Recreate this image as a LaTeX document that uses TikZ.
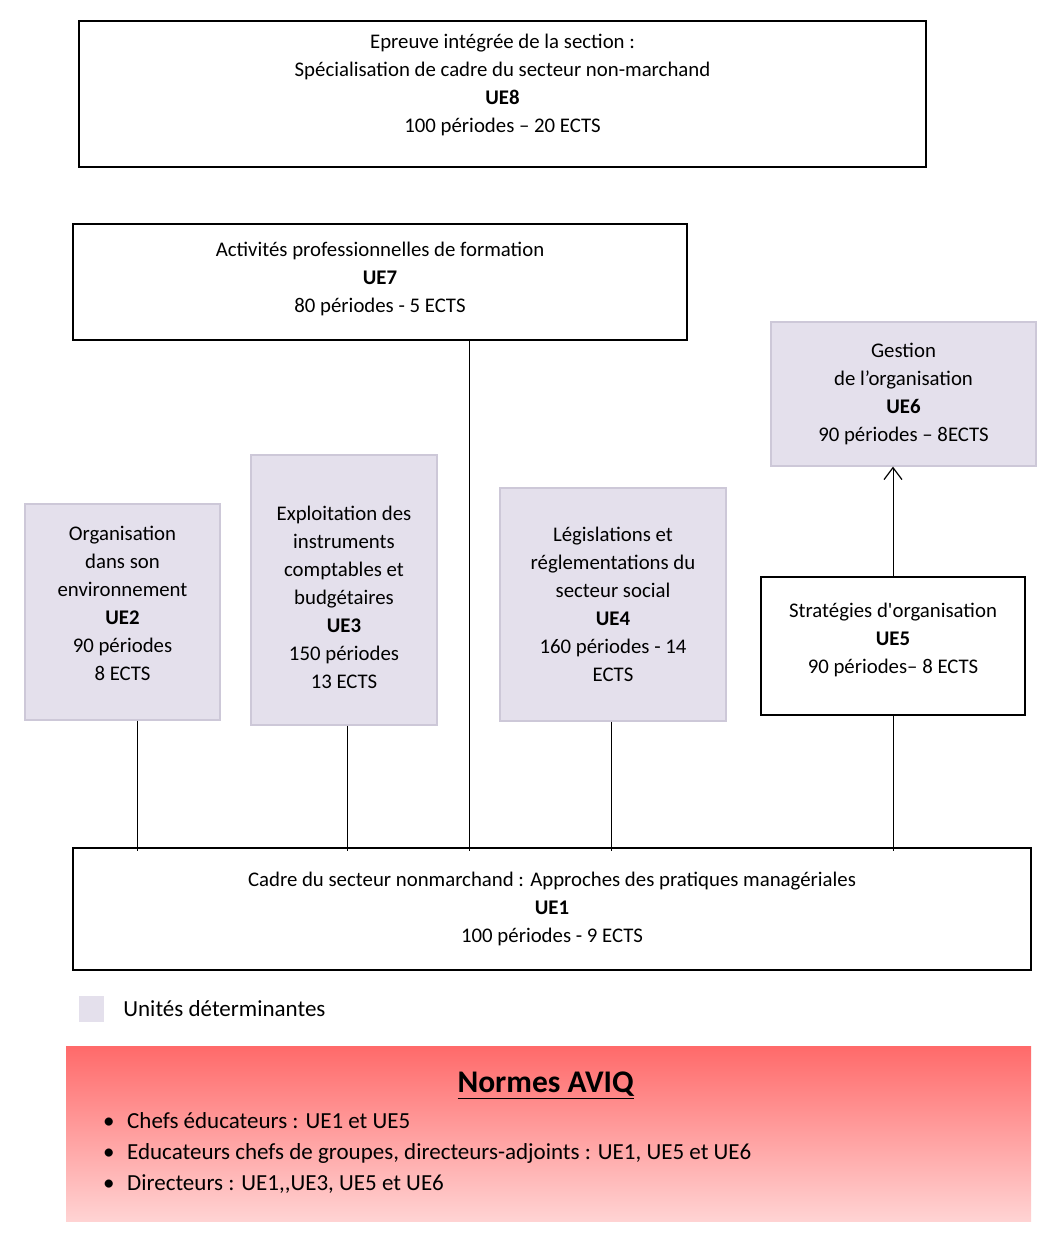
\documentclass[tikz,border=0pt]{standalone}
\usepackage{fontspec}
\setmainfont{Carlito}
\usetikzlibrary{positioning, arrows.meta}
\definecolor{uefill}{HTML}{E4E0EC}
\definecolor{uedraw}{HTML}{CDC8D8}
\definecolor{avtop}{HTML}{FF6A6A}
\definecolor{avbot}{HTML}{FFD3D3}

\begin{document}
\begin{tikzpicture}[x=1pt,y=-1pt]
\useasboundingbox (0,0) rectangle (1050,1253);

\tikzstyle{link} = [line width=1pt, shorten >=-4pt]
\tikzstyle{arrow} = [line width=1pt, -{Straight Barb[length=12pt,width=18pt,line width=1.2pt]}]
\tikzset{ue/.style = {rectangle, draw, line width=1.2pt, align=center, inner sep=0pt, font=\fontsize{20.8}{28}\selectfont}, }
\tikzset{det/.style = {ue, fill=uefill, draw=uedraw}, }
\newcommand{\bul}{\makebox[24pt][l]{\textbullet}}
\newcommand{\dpt}[1]{\rule[-#1]{0pt}{0pt}}
\newcommand{\htt}[1]{\rule{0pt}{#1}}

\node[ue, minimum width=847pt, minimum height=146pt] (UE8) at (502.5,94) {Epreuve intégrée de la section :\\
	Spécialisation de cadre du secteur non-marchand\\
	\textbf{UE8}\\
	100 périodes -- 20 ECTS\dpt{21pt}};
\node[ue, minimum width=614pt, minimum height=116pt] (UE7) at (380,282) {Activités professionnelles de formation\\
	\textbf{UE7}\\
	80 périodes - 5 ECTS\dpt{9pt}};
\node[det, minimum width=265pt, minimum height=144pt] (UE6) at (903.5,394) {Gestion\\
	de l’organisation\\
	\textbf{UE6}\\
	90 périodes -- 8ECTS};
\node[det, minimum width=195pt, minimum height=216pt] (UE2) at (122.5,612) {Organisation\\
	dans son\\
	environnement\\
	\textbf{UE2}\\
	90 périodes\\
	8 ECTS\dpt{17pt}};
\node[det, minimum width=186pt, minimum height=270pt] (UE3) at (344,590) {\htt{29pt}Exploitation des\\
	instruments\\
	comptables et\\
	budgétaires\\
	\textbf{UE3}\\
	150 périodes\\
	13 ECTS};
\node[det, minimum width=226pt, minimum height=233pt] (UE4) at (613,604.5) {Législations et\\
	réglementations du\\
	secteur social\\
	\textbf{UE4}\\
	160 périodes - 14\\
	ECTS};
\node[ue, minimum width=264pt, minimum height=138pt] (UE5) at (893,646) {Stratégies d\textquotesingle organisation\\
	\textbf{UE5}\\
	90 périodes-- 8 ECTS\dpt{15pt}};
\node[ue, minimum width=958pt, minimum height=122pt] (UE1) at (552,909) {Cadre du secteur nonmarchand : Approches des pratiques managériales\\
	\textbf{UE1}\\
	100 périodes - 9 ECTS};

% legend
\node[fill=uefill, minimum width=25pt, minimum height=26pt, inner sep=0pt] (leg) at (91.5,1009) {};
\node[right=19pt of leg, inner sep=0pt, font=\fontsize{23}{26}\selectfont] (legtext) {Unités déterminantes};

% AVIQ
\node[top color=avtop, bottom color=avbot, minimum width=965pt, minimum height=175pt] (AVIQ) at (548.5,1133.5) {};
\node[inner sep=0pt, font=\fontsize{31.5}{34}\selectfont] (AVIQtitle) at (546,1085) {\underline{\textbf{Normes AVIQ}}};
\node[inner sep=0pt, anchor=west, align=left, font=\fontsize{23}{31}\selectfont] (AVIQlist) at (103,1153) {\bul Chefs éducateurs : UE1 et UE5\\
	\bul Educateurs chefs de groupes, directeurs-adjoints : UE1, UE5 et UE6\\
	\bul Directeurs : UE1,{},UE3, UE5 et UE6};

\draw[link] ([xshift=14.5pt]UE2.south) -- ([xshift=14.5pt]UE2.south |- UE1.north);
\draw[link] ([xshift=3pt]UE3.south) -- ([xshift=3pt]UE3.south |- UE1.north);
\draw[link] ([xshift=89pt]UE7.south) -- ([xshift=89pt]UE7.south |- UE1.north);
\draw[link] ([xshift=-2pt]UE4.south) -- ([xshift=-2pt]UE4.south |- UE1.north);
\draw[link] (UE5.south) -- (UE5.south |- UE1.north);
\draw[arrow] (UE5.north) -- (UE5.north |- UE6.south);
\end{tikzpicture}
\end{document}
